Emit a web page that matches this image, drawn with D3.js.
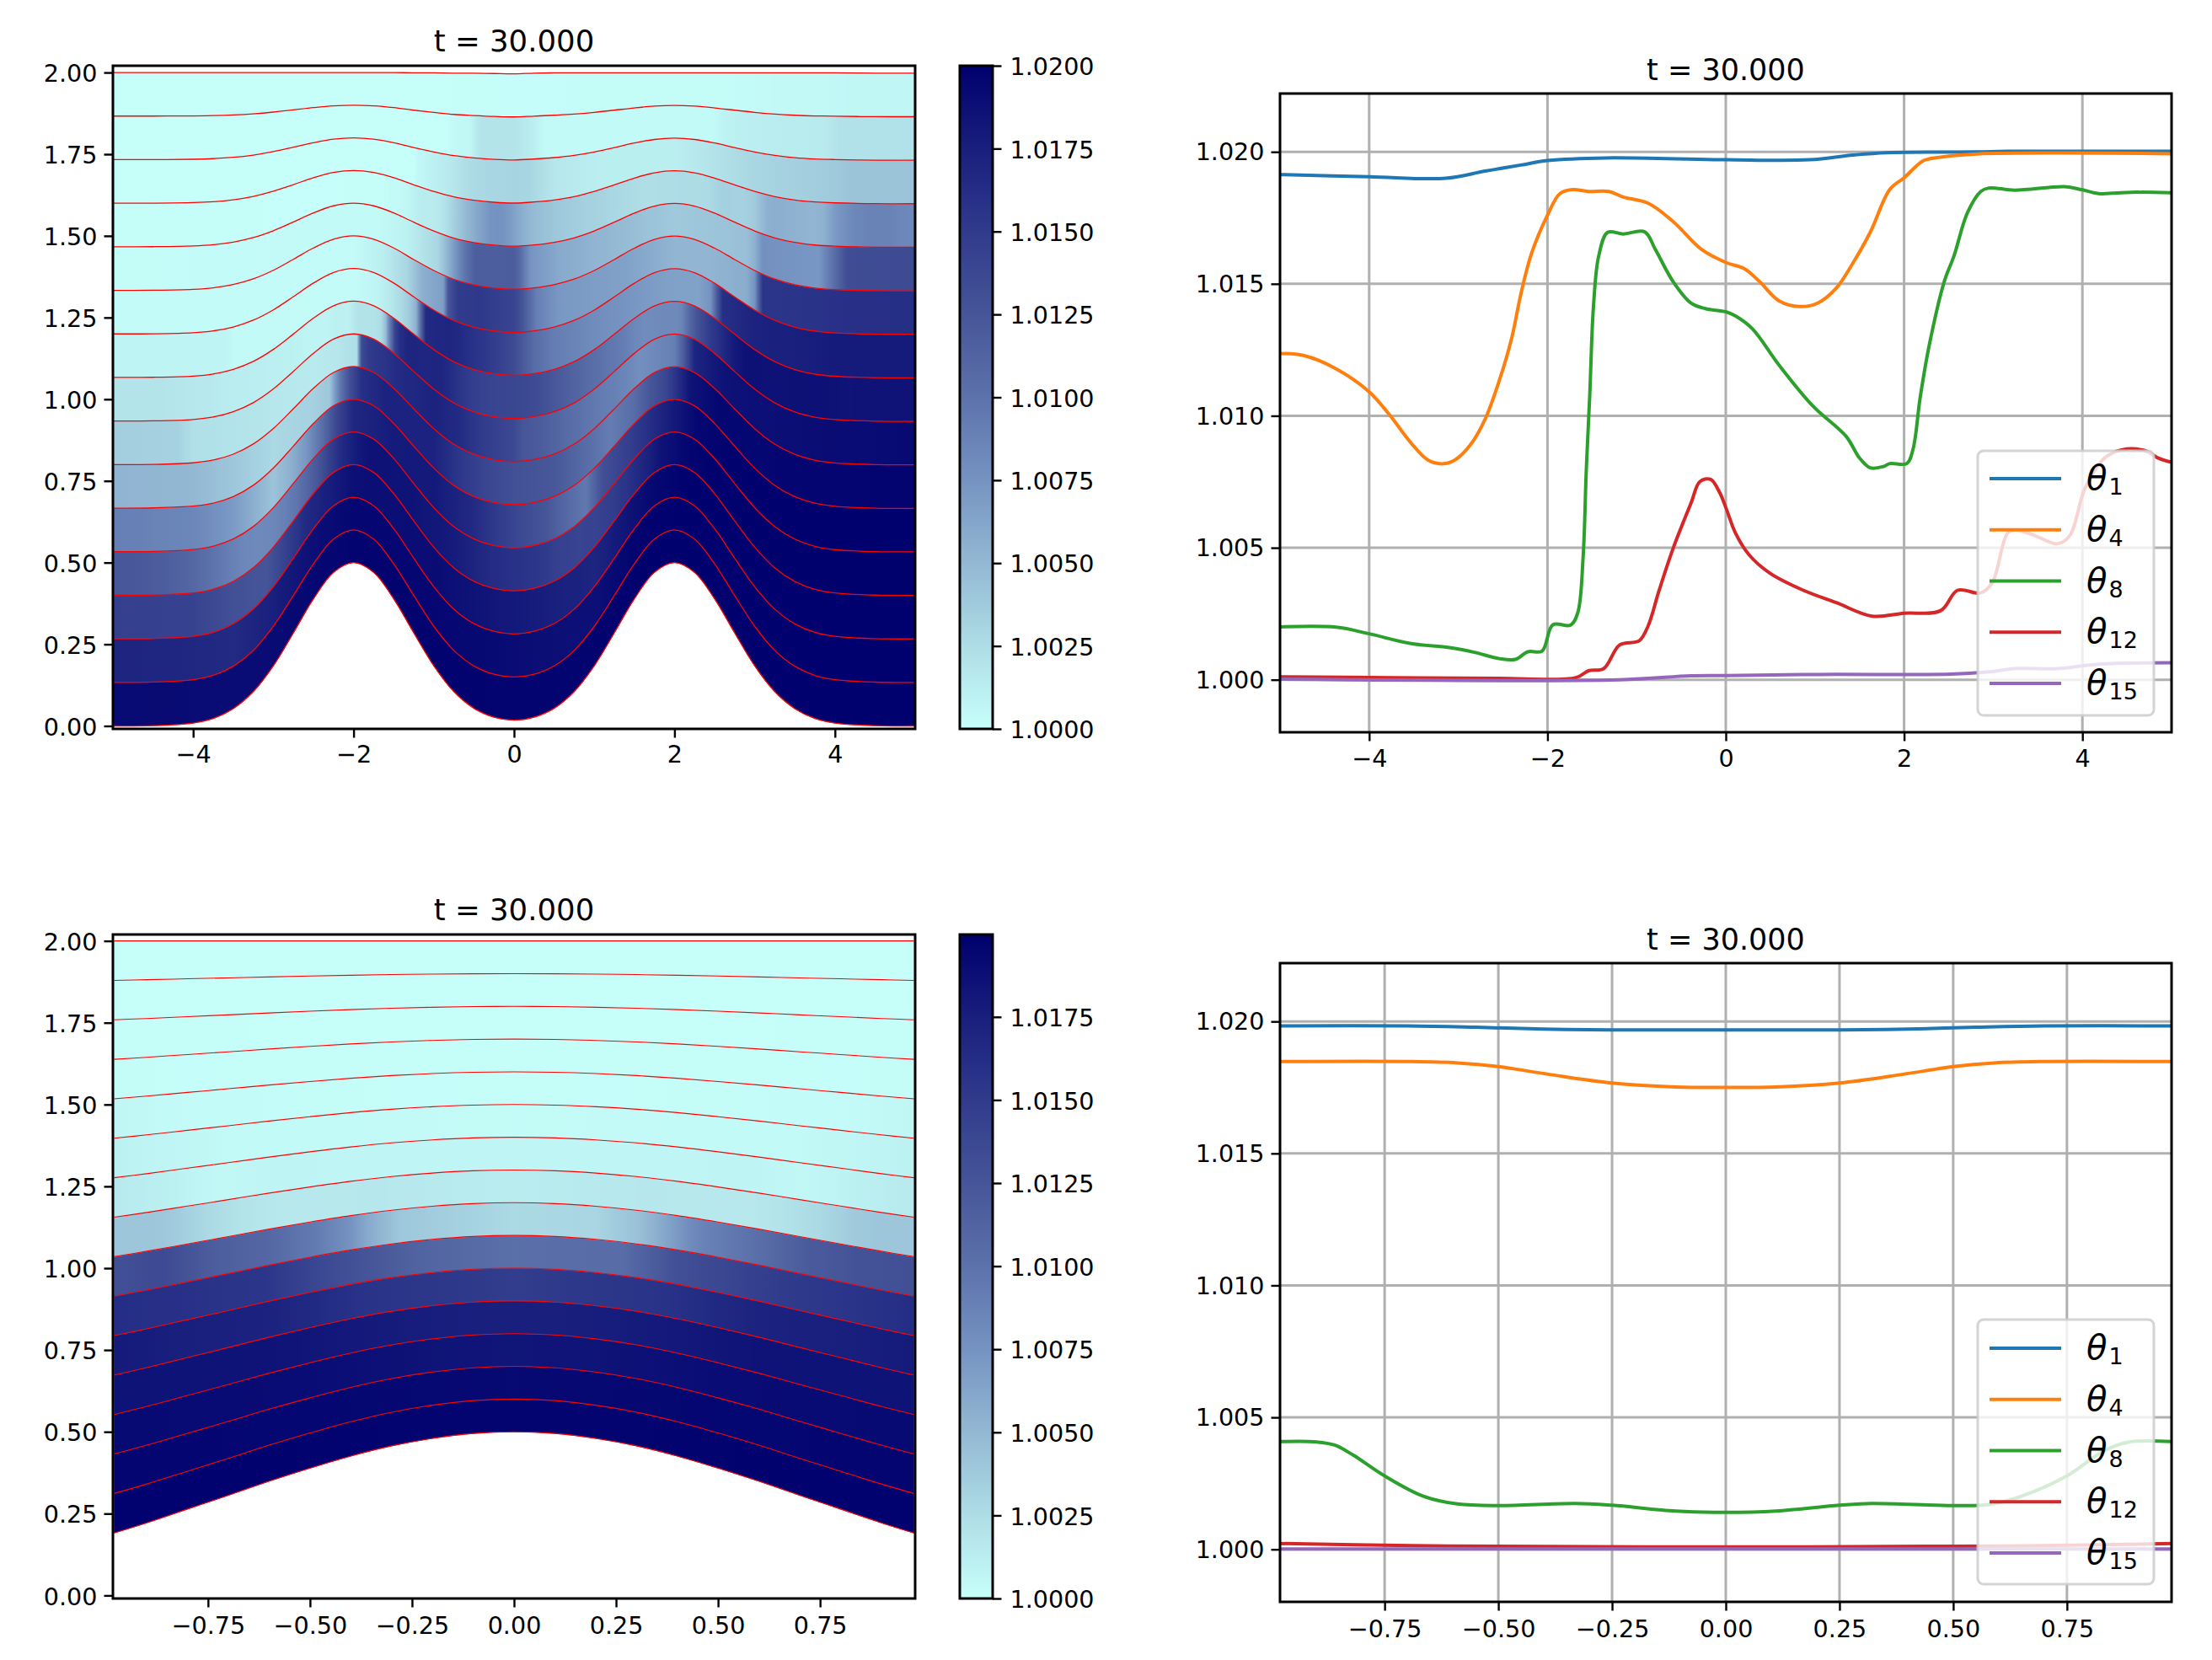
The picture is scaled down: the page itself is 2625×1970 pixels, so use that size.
<!DOCTYPE html>
<html>
<head>
<meta charset="utf-8">
<script src="https://cdnjs.cloudflare.com/ajax/libs/d3/7.8.5/d3.min.js"></script>
<style>
html,body{margin:0;padding:0;background:#fff}
svg{display:block}
text{font-family:"DejaVu Sans",sans-serif;fill:#000}
</style>
</head>
<body>
<svg id="fig" width="2625" height="1970" xmlns="http://www.w3.org/2000/svg"></svg>
<script>
// ---------- chart data ----------
const titleText = "t = 30.000";
const colorStopValues = [0, 0.125, 0.25, 0.375, 0.5, 0.625, 0.75, 0.875, 1];
const colorStopColors = ["#c6fffa", "#aedde6", "#93b8d3", "#7593c1", "#5c72ab", "#465598", "#303b8c", "#181f7d", "#00006e"];
const layerCount = 15;
const legendLayers = [1, 4, 8, 12, 15];
const legendColors = ["#1f77b4", "#ff7f0e", "#2ca02c", "#d62728", "#9467bd"];

// top row
const bathyXTop = [-5,-4.5,-4,-3.75,-3.5,-3.25,-3,-2.75,-2.5,-2.25,-2,-1.75,-1.5,-1.25,-1,-0.75,-0.5,-0.25,0,0.25,0.5,0.75,1,1.25,1.5,1.75,2,2.25,2.5,2.75,3,3.25,3.5,3.75,4,4.5,5];
const bathyZTop = [0,0.001,0.009,0.023,0.053,0.105,0.184,0.285,0.389,0.470,0.5,0.470,0.389,0.285,0.184,0.105,0.054,0.027,0.018,0.027,0.054,0.105,0.184,0.285,0.389,0.470,0.5,0.470,0.389,0.285,0.184,0.105,0.053,0.023,0.009,0.001,0];
const surfaceZTop = [2,2,2,2,2,2,2,2,2,2,2,2,2,1.999,1.999,1.998,1.998,1.997,1.996,1.998,1.999,1.999,1.999,1.999,1.999,1.999,1.999,1.999,1.999,1.999,1.999,1.999,1.999,1.999,1.999,1.998,1.998];

const theta1Top = [[-5,1.01914],[-4,1.01906],[-3.14,1.0190],[-2.7,1.01927],[-2.3,1.0195],[-2,1.01967],[-1.35,1.01977],[0,1.0197],[0.94,1.0197],[1.43,1.01988],[1.8,1.01997],[2.82,1.0200],[3.16,1.02002],[5,1.02002]];
const theta2Top = [[-5,1.0170],[-4,1.0168],[-3.5,1.0165],[-3,1.0175],[-2.5,1.0188],[-2,1.0195],[-1,1.0195],[0,1.0190],[1,1.0187],[1.5,1.0197],[2.2,1.02],[5,1.02]];
const theta3Top = [[-5,1.0145],[-4,1.0143],[-3.5,1.0130],[-3.1,1.0125],[-2.9,1.0140],[-2.6,1.0165],[-2.2,1.0180],[-2,1.0188],[-1,1.0190],[0,1.0180],[0.5,1.0175],[1,1.0170],[1.3,1.0180],[1.7,1.0193],[2.2,1.02],[5,1.02]];
const theta4Top = [[-5,1.01236],[-4.73,1.01228],[-4.37,1.01178],[-4,1.01091],[-3.77,1.01003],[-3.53,1.00897],[-3.34,1.00832],[-3.18,1.00818],[-3.04,1.00832],[-2.86,1.00892],[-2.7,1.00987],[-2.54,1.01134],[-2.4,1.01296],[-2.3,1.01459],[-2.18,1.01614],[-2,1.0176],[-1.86,1.01842],[-1.72,1.01857],[-1.54,1.0185],[-1.31,1.0185],[-1.15,1.01829],[-0.87,1.01805],[-0.59,1.01736],[-0.27,1.0163],[0,1.01581],[0.21,1.01557],[0.38,1.01508],[0.6,1.01435],[0.83,1.01414],[1.03,1.01427],[1.24,1.01484],[1.43,1.01581],[1.62,1.01695],[1.84,1.01858],[2,1.01902],[2.22,1.01967],[2.41,1.0198],[2.82,1.01992],[5,1.01993]];
const theta5Top = [[-5,1.0090],[-4,1.0085],[-3.5,1.0070],[-3,1.0042],[-2.76,1.0057],[-2.59,1.0073],[-2.38,1.0105],[-2.2,1.0140],[-2,1.0168],[-1.5,1.0178],[-1,1.0180],[-0.5,1.0165],[0,1.0140],[0.4,1.0125],[0.7,1.0105],[0.9,1.0095],[1.1,1.0130],[1.5,1.0150],[1.75,1.0165],[2,1.0180],[2.3,1.0195],[3,1.02],[5,1.02]];
const theta6Top = [[-5,1.0053],[-4,1.0050],[-3.5,1.0040],[-3,1.0028],[-2.5,1.0033],[-2.3,1.0040],[-2.17,1.0095],[-2.05,1.0130],[-1.9,1.0160],[-1.6,1.0172],[-1,1.0172],[-0.7,1.0155],[-0.3,1.0138],[0,1.0130],[0.5,1.0123],[0.9,1.0105],[1.2,1.0092],[1.5,1.0105],[1.7,1.0125],[1.9,1.0140],[2,1.0155],[2.2,1.0185],[2.6,1.0195],[5,1.0197]];
const theta7Top = [[-5,1.0035],[-4.2,1.0033],[-4,1.0023],[-3,1.0018],[-2.5,1.0015],[-2.2,1.0018],[-1.96,1.0025],[-1.9,1.0135],[-1.8,1.0150],[-1.4,1.0165],[-1,1.0172],[-0.7,1.0165],[-0.4,1.0150],[0,1.0137],[0.1,1.0125],[0.3,1.0120],[0.6,1.0108],[1,1.0095],[1.4,1.0085],[1.57,1.0078],[1.9,1.0087],[2,1.0090],[2.1,1.0115],[2.25,1.0170],[2.6,1.0185],[3,1.0188],[5,1.0192]];
const theta8Top = [[-5,1.002],[-4.37,1.00199],[-4,1.00174],[-3.53,1.00137],[-3.1,1.00122],[-2.82,1.00104],[-2.54,1.0008],[-2.36,1.00077],[-2.22,1.00106],[-2.06,1.00109],[-1.94,1.00208],[-1.74,1.00207],[-1.66,1.00254],[-1.6,1.00466],[-1.565,1.00792],[-1.525,1.01085],[-1.485,1.0141],[-1.425,1.01606],[-1.325,1.01695],[-1.15,1.01689],[-0.91,1.01697],[-0.79,1.0163],[-0.59,1.01508],[-0.39,1.01427],[-0.23,1.01406],[0,1.01394],[0.11,1.01378],[0.3,1.01329],[0.6,1.01191],[0.98,1.01036],[1.35,1.00922],[1.5,1.0084],[1.62,1.00803],[1.77,1.00808],[1.84,1.00819],[2.03,1.00819],[2.1,1.00873],[2.18,1.01068],[2.28,1.01264],[2.45,1.01508],[2.56,1.01606],[2.71,1.01769],[2.86,1.0185],[2.95,1.01863],[3.24,1.01855],[3.8,1.01868],[3.99,1.01857],[4.18,1.01842],[4.55,1.01847],[5,1.01845]];
const theta9Top = [[-5,1.0008],[-3.6,1.0008],[-3.5,1.0004],[-2.5,1.0003],[-2,1.0003],[-1.7,1.0008],[-1.55,1.0016],[-1.4,1.0028],[-1.3,1.0038],[-1.22,1.0055],[-1.1,1.0165],[-0.8,1.0170],[-0.3,1.0150],[0,1.0135],[0.25,1.0105],[0.5,1.0092],[1,1.0080],[2,1.0065],[2.3,1.0065],[2.45,1.0075],[2.6,1.0160],[3,1.0172],[4,1.0178],[5,1.0178]];
const theta10Top = [[-5,1.0003],[-2,1.0003],[-1.65,1.0012],[-1.33,1.0030],[-1.15,1.0055],[-0.88,1.0068],[-0.82,1.0125],[-0.7,1.0150],[-0.4,1.0152],[0,1.0140],[0.08,1.0130],[0.28,1.0090],[0.55,1.0072],[1.4,1.0065],[2,1.0052],[2.45,1.0052],[2.9,1.0058],[3,1.0075],[3.1,1.0155],[5,1.0162]];
const theta11Top = [[-5,1.0002],[-1.68,1.0004],[-1.33,1.0010],[-0.95,1.0030],[-0.8,1.0058],[-0.63,1.0095],[-0.49,1.0117],[0,1.0118],[0.06,1.0110],[0.2,1.0075],[0.55,1.0060],[1.05,1.0052],[2,1.0038],[2.9,1.0045],[3,1.0055],[3.1,1.0077],[3.8,1.0072],[3.95,1.0097],[4.16,1.0133],[5,1.0135]];
const theta12Top = [[-5,1.00011],[-3.75,1.00008],[-2.55,1.00005],[-1.68,1.00008],[-1.54,1.00034],[-1.37,1.00042],[-1.19,1.00132],[-0.97,1.00148],[-0.87,1.00205],[-0.75,1.00336],[-0.59,1.00498],[-0.39,1.00669],[-0.29,1.00751],[-0.17,1.00759],[-0.07,1.0071],[0,1.00653],[0.11,1.00555],[0.26,1.00474],[0.49,1.00405],[0.87,1.00339],[1.24,1.00292],[1.64,1.00241],[2,1.00252],[2.41,1.00262],[2.6,1.00339],[2.86,1.00329],[2.99,1.00368],[3.16,1.00555],[3.25,1.00567],[3.46,1.00547],[3.72,1.00515],[3.86,1.00547],[4.03,1.00726],[4.25,1.0084],[4.44,1.00871],[4.7,1.00868],[4.85,1.0084],[5,1.00824]];
const theta13Top = [[-5,1.0],[-1.25,1.0],[-1.2,1.0005],[-0.88,1.0014],[-0.7,1.0020],[-0.5,1.0028],[0,1.0031],[0.2,1.0030],[0.5,1.0018],[1.1,1.0012],[2,1.0012],[2.45,1.0020],[3,1.0030],[4,1.0038],[4.2,1.0042],[5,1.0042]];
const theta14Top = [[-5,1.0],[-0.85,1.0],[-0.77,1.0004],[-0.55,1.0006],[-0.42,1.0020],[0,1.0020],[0.25,1.0012],[0.38,1.0004],[2.5,1.0004],[2.6,1.0009],[3.1,1.0013],[3.85,1.0015],[4.05,1.0021],[5,1.0022]];
const theta15Top = [[-5,1.00002],[-1.2,1.0],[-0.39,1.00015],[0,1.00016],[1.05,1.0002],[2.52,1.00021],[2.93,1.00029],[3.24,1.00042],[3.72,1.00042],[4.18,1.00059],[5,1.00064]];

// bottom row
const bathyXBottom = [-0.98,-0.9,-0.8,-0.7,-0.6,-0.5,-0.4,-0.3,-0.2,-0.1,0,0.1,0.2,0.3,0.4,0.5,0.6,0.7,0.8,0.9,0.98];
const bathyZBottom = [0.191,0.222,0.264,0.306,0.349,0.389,0.426,0.457,0.480,0.495,0.5,0.495,0.480,0.457,0.426,0.389,0.349,0.306,0.264,0.222,0.191];
const surfaceZBottom = [2,2,2,2,2,2,2,2,2,2,2,2,2,2,2,2,2,2,2,2,2];

const theta1Bottom = [[-0.98,1.01983],[-0.7,1.01983],[-0.55,1.01978],[-0.4,1.01971],[-0.25,1.01968],[0,1.01968],[0.25,1.01968],[0.4,1.01971],[0.55,1.01978],[0.7,1.01983],[0.98,1.01983]];
const theta2Bottom = [[-0.98,1.0196],[-0.5,1.0195],[0,1.0192],[0.5,1.0195],[0.98,1.0196]];
const theta3Bottom = [[-0.98,1.0192],[-0.5,1.0190],[-0.2,1.0184],[0,1.0183],[0.2,1.0184],[0.5,1.0190],[0.98,1.0192]];
const theta4Bottom = [[-0.98,1.01848],[-0.69,1.01848],[-0.59,1.01843],[-0.5,1.01829],[-0.39,1.018],[-0.25,1.01767],[-0.11,1.01752],[0,1.0175],[0.11,1.01752],[0.25,1.01767],[0.39,1.018],[0.5,1.01829],[0.59,1.01843],[0.69,1.01848],[0.98,1.01848]];
const theta5Bottom = [[-0.98,1.0178],[-0.6,1.0172],[-0.38,1.0158],[0,1.0148],[0.38,1.0158],[0.6,1.0172],[0.98,1.0178]];
const theta6Bottom = [[-0.98,1.0162],[-0.61,1.0155],[-0.48,1.0138],[-0.23,1.0112],[0,1.0102],[0.27,1.0105],[0.4,1.0130],[0.66,1.0150],[0.98,1.0162]];
const theta7Bottom = [[-0.98,1.0130],[-0.86,1.0135],[-0.74,1.0118],[-0.61,1.0110],[-0.48,1.0092],[-0.4,1.0075],[-0.36,1.0060],[-0.28,1.0040],[0,1.0028],[0.2,1.0030],[0.31,1.0045],[0.38,1.0065],[0.45,1.0085],[0.53,1.0095],[0.59,1.0102],[0.72,1.0120],[0.85,1.0128],[0.98,1.0130]];
const theta8Bottom = [[-0.98,1.00408],[-0.9,1.00407],[-0.86,1.00395],[-0.82,1.00358],[-0.75,1.00278],[-0.665,1.00201],[-0.59,1.00172],[-0.5,1.00166],[-0.33,1.00174],[-0.25,1.00167],[-0.11,1.00145],[0,1.0014],[0.11,1.00145],[0.25,1.00167],[0.32,1.00174],[0.5,1.00166],[0.58,1.0017],[0.65,1.00201],[0.75,1.00278],[0.83,1.00372],[0.885,1.00406],[0.98,1.00408]];
const theta9Bottom = [[-0.98,1.0016],[-0.8,1.0009],[-0.71,1.0005],[-0.6,1.0008],[0,1.0007],[0.6,1.0008],[0.71,1.0005],[0.8,1.0009],[0.98,1.0016]];
const theta10Bottom = [[-0.98,1.0010],[-0.7,1.0004],[0,1.0003],[0.7,1.0004],[0.98,1.0010]];
const theta11Bottom = [[-0.98,1.0006],[-0.8,1.0003],[0,1.0001],[0.8,1.0003],[0.98,1.0006]];
const theta12Bottom = [[-0.98,1.00022],[-0.69,1.00014],[-0.5,1.00012],[0,1.00009],[0.5,1.00012],[0.69,1.00014],[0.98,1.00022]];
const theta13Bottom = [[-0.98,1.0001],[0,1.0],[0.98,1.0001]];
const theta14Bottom = [[-0.98,1.0],[0,1.0],[0.98,1.0]];
const theta15Bottom = [[-0.98,1.00001],[0,1.00001],[0.98,1.00001]];

const thetaTop = [theta1Top,theta2Top,theta3Top,theta4Top,theta5Top,theta6Top,theta7Top,theta8Top,theta9Top,theta10Top,theta11Top,theta12Top,theta13Top,theta14Top,theta15Top];
const thetaBottom = [theta1Bottom,theta2Bottom,theta3Bottom,theta4Bottom,theta5Bottom,theta6Bottom,theta7Bottom,theta8Bottom,theta9Bottom,theta10Bottom,theta11Bottom,theta12Bottom,theta13Bottom,theta14Bottom,theta15Bottom];

// ticks
const heightTicks = [0,0.25,0.5,0.75,1,1.25,1.5,1.75,2];
const xTicksTop = [-4,-2,0,2,4];
const xTicksBottom = [-0.75,-0.5,-0.25,0,0.25,0.5,0.75];
const thetaTicks = [1,1.005,1.01,1.015,1.02];
const cbarTicksTop = [1,1.0025,1.005,1.0075,1.01,1.0125,1.015,1.0175,1.02];
const cbarTicksBottom = [1,1.0025,1.005,1.0075,1.01,1.0125,1.015,1.0175];

// ---------- layout ----------
const FS = 28.6, SPINE = 3;
const svg = d3.select("#fig");
const defs = svg.append("defs");
const fmtMinus = f => v => f(v).replace("-", "\u2212");

function styleAxis(g, fs, labelShift) {
  g.select(".domain").remove();
  g.selectAll(".tick line").attr("stroke", "#000").attr("stroke-width", SPINE - 0.6);
  g.selectAll(".tick text").attr("font-size", fs).attr("fill", "#000")
    .attr("transform", `translate(0,${labelShift || 0})`);
}
function spines(x0, y0, x1, y1) {
  svg.append("rect").attr("x", x0).attr("y", y0).attr("width", x1 - x0).attr("height", y1 - y0)
    .attr("fill", "none").attr("stroke", "#000").attr("stroke-width", SPINE);
}
function title(cx, baseline, fs) {
  svg.append("text").attr("x", cx).attr("y", baseline).attr("text-anchor", "middle")
    .attr("font-size", fs).text(titleText);
}

function colormap(vmin, vmax) {
  return d3.scaleLinear()
    .domain(colorStopValues.map(t => vmin + t * (vmax - vmin)))
    .range(colorStopColors)
    .interpolate(d3.interpolateRgb)
    .clamp(true);
}

// ---------- heatmap panel ----------
function heatmapPanel(o) {
  const x = d3.scaleLinear().domain(o.xDomain).range([o.x0, o.x1]);
  const y = d3.scaleLinear().domain(o.yDomain).range([o.y1, o.y0]);
  const color = colormap(o.vmin, o.vmax);
  const id = o.id;

  defs.append("clipPath").attr("id", id + "clip").append("rect")
    .attr("x", o.x0).attr("y", o.y0).attr("width", o.x1 - o.x0).attr("height", o.y1 - o.y0);

  const plot = svg.append("g").attr("clip-path", `url(#${id}clip)`);
  const pts = o.bathyX.map((bx, i) => ({ x: bx, b: o.bathyZ[i], s: o.surfaceZ[i] }));
  const iface = (p, k) => p.b + (k / layerCount) * (p.s - p.b);
  const curve = d3.curveCatmullRom.alpha(0.5);

  o.theta.forEach((series, j) => {
    const grad = defs.append("linearGradient").attr("id", `${id}L${j}`)
      .attr("gradientUnits", "userSpaceOnUse")
      .attr("x1", o.x0).attr("x2", o.x1).attr("y1", 0).attr("y2", 0);
    const span = o.xDomain[1] - o.xDomain[0];
    series.forEach((d, i) => {
      if (i === series.length - 1) {
        grad.append("stop").attr("offset", (d[0] - o.xDomain[0]) / span).attr("stop-color", color(d[1]));
        return;
      }
      const e = series[i + 1];
      const parts = 6;
      d3.range(parts).forEach(s => {
        const t = s / parts;
        grad.append("stop").attr("offset", (d[0] + t * (e[0] - d[0]) - o.xDomain[0]) / span)
          .attr("stop-color", color(d[1] + t * (e[1] - d[1])));
      });
    });
    const area = d3.area().x(p => x(p.x)).y0(p => y(iface(p, j))).y1(p => y(iface(p, j + 1))).curve(curve);
    plot.append("path").attr("d", area(pts)).attr("fill", `url(#${id}L${j})`)
      .attr("stroke", `url(#${id}L${j})`).attr("stroke-width", 0.6);
  });

  d3.range(layerCount + 1).forEach(k => {
    const line = d3.line().x(p => x(p.x)).y(p => y(iface(p, k))).curve(curve);
    plot.append("path").attr("d", line(pts)).attr("fill", "none").attr("stroke", "#ff0000").attr("stroke-width", o.redWidth);
  });

  const ax = svg.append("g").attr("transform", `translate(0,${o.y1})`)
    .call(d3.axisBottom(x).tickValues(o.xTicks).tickSize(10.5).tickPadding(8).tickFormat(fmtMinus(d3.format(o.xFormat))));
  styleAxis(ax, FS, o.xLabelShift);
  const ay = svg.append("g").attr("transform", `translate(${o.x0},0)`)
    .call(d3.axisLeft(y).tickValues(heightTicks).tickSize(10.5).tickPadding(8).tickFormat(d3.format(".2f")));
  styleAxis(ay, FS, 1.5);
  spines(o.x0, o.y0, o.x1, o.y1);
  title((o.x0 + o.x1) / 2, o.titleY, 35.5);

  // colour bar
  const cy = d3.scaleLinear().domain([o.vmin, o.vmax]).range([o.y1, o.y0]);
  const gid = id + "bar";
  const g = defs.append("linearGradient").attr("id", gid).attr("x1", 0).attr("x2", 0).attr("y1", 1).attr("y2", 0);
  colorStopValues.forEach((t, i) => g.append("stop").attr("offset", t).attr("stop-color", colorStopColors[i]));
  svg.append("rect").attr("x", o.barX0).attr("y", o.y0).attr("width", o.barX1 - o.barX0).attr("height", o.y1 - o.y0)
    .attr("fill", `url(#${gid})`).attr("stroke", "#000").attr("stroke-width", SPINE);
  const ac = svg.append("g").attr("transform", `translate(${o.barX1},0)`)
    .call(d3.axisRight(cy).tickValues(o.barTicks).tickSize(10.5).tickPadding(10).tickFormat(d3.format(".4f")));
  styleAxis(ac, FS, 1.5);
}

// ---------- line panel ----------
function linePanel(o) {
  const x = d3.scaleLinear().domain(o.xDomain).range([o.x0, o.x1]);
  const y = d3.scaleLinear().domain(o.yDomain).range([o.y1, o.y0]);
  const id = o.id;
  defs.append("clipPath").attr("id", id + "clip").append("rect")
    .attr("x", o.x0).attr("y", o.y0).attr("width", o.x1 - o.x0).attr("height", o.y1 - o.y0);

  const grid = svg.append("g").attr("stroke", "#b0b0b0").attr("stroke-width", 3);
  o.xTicks.forEach(v => grid.append("line").attr("x1", x(v)).attr("x2", x(v)).attr("y1", o.y0).attr("y2", o.y1));
  thetaTicks.forEach(v => grid.append("line").attr("x1", o.x0).attr("x2", o.x1).attr("y1", y(v)).attr("y2", y(v)));

  const plot = svg.append("g").attr("clip-path", `url(#${id}clip)`);
  const line = d3.line().x(d => x(d[0])).y(d => y(d[1])).curve(d3.curveCatmullRom.alpha(0.5));
  legendLayers.forEach((L, i) => {
    plot.append("path").attr("d", line(o.theta[L - 1])).attr("fill", "none")
      .attr("stroke", legendColors[i]).attr("stroke-width", 4).attr("stroke-linejoin", "round");
  });

  const ax = svg.append("g").attr("transform", `translate(0,${o.y1})`)
    .call(d3.axisBottom(x).tickValues(o.xTicks).tickSize(10.5).tickPadding(8).tickFormat(fmtMinus(d3.format(o.xFormat))));
  styleAxis(ax, FS, o.xLabelShift);
  const ay = svg.append("g").attr("transform", `translate(${o.x0},0)`)
    .call(d3.axisLeft(y).tickValues(thetaTicks).tickSize(10.5).tickPadding(8).tickFormat(d3.format(".3f")));
  styleAxis(ay, FS, 0.5);
  spines(o.x0, o.y0, o.x1, o.y1);
  title((o.x0 + o.x1) / 2, o.titleY, 35);

  // legend
  const lg = svg.append("g");
  lg.append("rect").attr("x", o.legX0).attr("y", o.legY0).attr("width", o.legX1 - o.legX0).attr("height", o.legY1 - o.legY0)
    .attr("rx", 7).attr("ry", 7).attr("fill", "#fff").attr("fill-opacity", 0.8)
    .attr("stroke", "#ccc").attr("stroke-opacity", 0.85).attr("stroke-width", 3);
  const step = (o.legRowLast - o.legRowFirst) / (legendLayers.length - 1);
  legendLayers.forEach((L, i) => {
    const ry = o.legRowFirst + i * step;
    lg.append("line").attr("x1", o.legX0 + 14).attr("x2", o.legX0 + 99).attr("y1", ry).attr("y2", ry)
      .attr("stroke", legendColors[i]).attr("stroke-width", 4);
    const t = lg.append("text").attr("x", o.legX0 + 129).attr("y", ry + 13);
    t.append("tspan").attr("font-size", 40).attr("font-style", "italic").text("\u03b8");
    t.append("tspan").attr("font-size", 27).attr("dy", 6).attr("dx", 2).text(L);
  });
}

// ---------- the four panels ----------
heatmapPanel({
  id: "a", x0: 134, x1: 1086, y0: 78, y1: 865, xDomain: [-5, 5], yDomain: [-0.009, 2.0208],
  theta: thetaTop, bathyX: bathyXTop, bathyZ: bathyZTop, surfaceZ: surfaceZTop,
  vmin: 1, vmax: 1.02, xTicks: xTicksTop, xFormat: "d", barTicks: cbarTicksTop, xLabelShift: 1.5,
  barX0: 1139, barX1: 1178, titleY: 60.5, redWidth: 1.3
});
linePanel({
  id: "b", x0: 1519, x1: 2577, y0: 111, y1: 869, xDomain: [-5, 5], yDomain: [0.99801, 1.02221],
  theta: thetaTop, xTicks: xTicksTop, xFormat: "d", titleY: 94.5, xLabelShift: 2,
  legX0: 2347, legX1: 2556, legY0: 535, legY1: 849, legRowFirst: 568, legRowLast: 811
});
heatmapPanel({
  id: "c", x0: 134, x1: 1086, y0: 1109, y1: 1897, xDomain: [-0.983, 0.983], yDomain: [-0.0093, 2.0196],
  theta: thetaBottom, bathyX: bathyXBottom, bathyZ: bathyZBottom, surfaceZ: surfaceZBottom,
  vmin: 1, vmax: 1.01998, xTicks: xTicksBottom, xFormat: ".2f", barTicks: cbarTicksBottom, xLabelShift: 3,
  barX0: 1139, barX1: 1178, titleY: 1091.5, redWidth: 1.1
});
linePanel({
  id: "d", x0: 1519, x1: 2577, y0: 1143, y1: 1901, xDomain: [-0.98, 0.98], yDomain: [0.99801, 1.02221],
  theta: thetaBottom, xTicks: xTicksBottom, xFormat: ".2f", titleY: 1126.5, xLabelShift: 3,
  legX0: 2347, legX1: 2556, legY0: 1566, legY1: 1880, legRowFirst: 1600, legRowLast: 1843
});
</script>
</body>
</html>
